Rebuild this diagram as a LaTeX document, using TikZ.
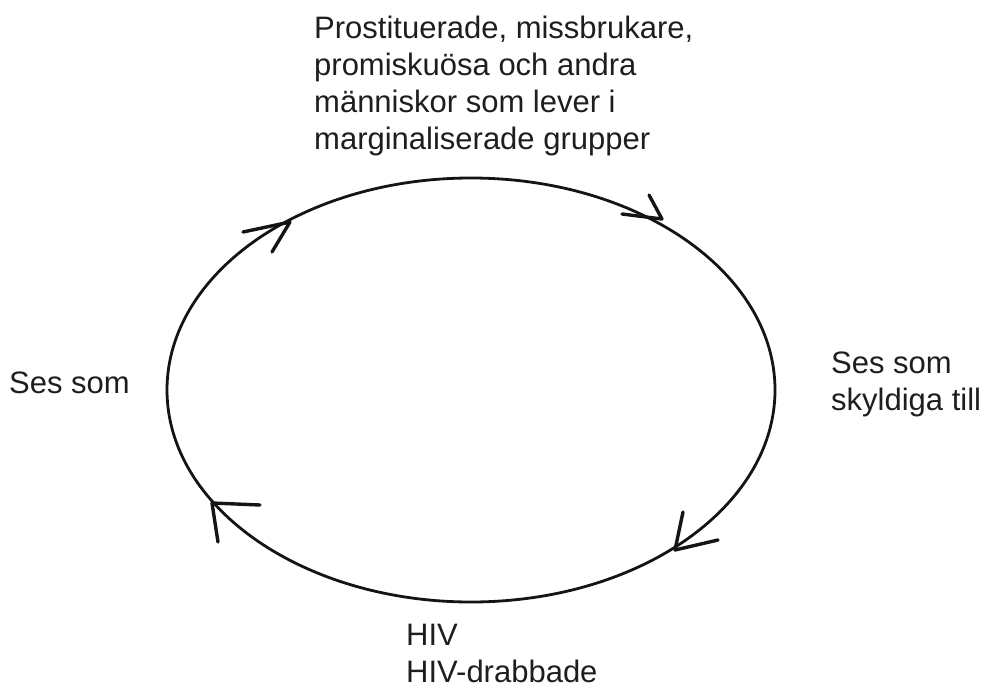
\documentclass[tikz,border=0pt]{standalone}
\usepackage{fontspec}
\usepackage{xcolor}
\usepackage{tikz}
\setmainfont{Liberation Sans}
\definecolor{inkblack}{RGB}{20, 20, 20}
\definecolor{labelgray}{RGB}{30, 30, 30}

\begin{document}
\begin{tikzpicture}[x=1pt, y=-1pt,
  label text/.style={anchor=base west, inner sep=0pt, align=left,
    font=\fontsize{31}{37}\selectfont, text=labelgray},
  loop line/.style={draw=inkblack, line width=2.8pt},
  barb/.style={draw=inkblack, line width=3.4pt, line cap=round, line join=round}
]
\useasboundingbox (0,0) rectangle (987,687);

\coordinate (centre) at (471,390);
\draw[loop line] (centre) ellipse [x radius=304, y radius=212];

% hand-drawn arrow heads, clockwise
\coordinate (tip1) at (290,222);
\coordinate (tip2) at (662,219);
\coordinate (tip3) at (675,550);
\coordinate (tip4) at (212,503);
\draw[barb] (243,232) -- (tip1) -- (272,252);
\draw[barb] (622,214) -- (tip2) -- (649,195);
\draw[barb] (683,512) -- (tip3) -- (718,540);
\draw[barb] (260,505) -- (tip4) -- (218,542);

% base anchor sits on the last line
\node[label text] (groups) at (314,150) {Prostituerade, missbrukare,\\promiskuösa och andra\\människor som lever i\\marginaliserade grupper};
\node[label text] (guilty) at (831,410) {Ses som\\skyldiga till};
\node[label text] (hiv) at (406,682) {HIV\\HIV-drabbade};
\node[label text] (seen) at (9,393) {Ses som};
\end{tikzpicture}
\end{document}
